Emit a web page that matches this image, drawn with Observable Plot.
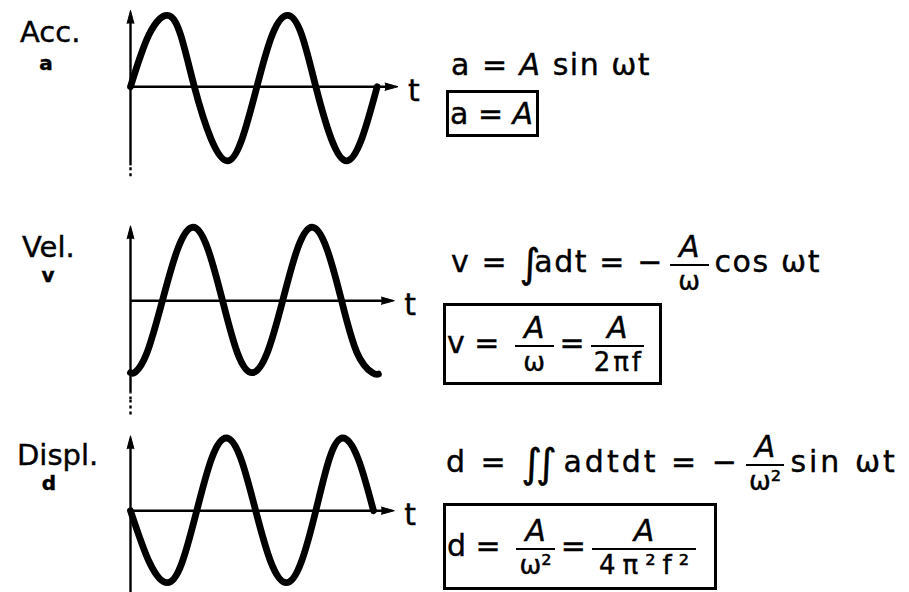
<!DOCTYPE html>
<html>
<head>
<meta charset="utf-8">
<script src="https://cdn.jsdelivr.net/npm/d3@7"></script>
<script src="https://cdn.jsdelivr.net/npm/@observablehq/plot@0.6"></script>
<style>
  html, body { margin: 0; padding: 0; background: #fff; overflow: hidden; }
  #page { position: relative; width: 909px; height: 592px; overflow: hidden;
          font-family: "DejaVu Sans", sans-serif; color: #000; }
  .name, .sym, .eq { position: absolute; line-height: 1; white-space: nowrap;
                     -webkit-text-stroke: 0.4px #000; }
  .name { font-size: 29px; }
  .sym  { font-size: 20px; font-weight: bold; transform: translateX(-50%); }
  .eq   { font-size: 30px; transform: translateY(-50%); }
  .box  { position: absolute; box-sizing: border-box; border: 3px solid #000;
          display: flex; align-items: center; padding-left: 1px;
          font-size: 30px; line-height: 1; white-space: nowrap; -webkit-text-stroke: 0.4px #000; }
  .frac { display: inline-flex; flex-direction: column; align-items: stretch;
          vertical-align: middle; margin: 0 6px; letter-spacing: 0; }
  .frac .num { border-bottom: 2.5px solid #000; padding: 0 9px 2px; line-height: 1; text-align: center; }
  .frac .den { line-height: 1; padding-top: 2px; font-size: 26px; text-align: center; }
  .frac .den.wide { letter-spacing: 7px; padding: 2px 0 0 7px; }
  .frac .den.mid  { letter-spacing: 3px; padding: 2px 0 0 3px; }
  .int { font-size: 40px; vertical-align: -5px; letter-spacing: -6px; }
  i { font-style: italic; }
</style>
</head>
<body>
<div id="page"></div>
<script>
// Waveform traces: time in cycles of the drive, amplitude in units of the peak value
const accT  = [0, 0.15, 0.30, 0.41, 0.52, 0.655, 0.79, 0.91, 1.03, 1.155, 1.28, 1.395, 1.51, 1.635, 1.76, 1.885, 2.01];
const accV  = [0, 0.72, 0.99, 0.71, 0, -0.72, -1.03, -0.72, 0, 0.72, 0.99, 0.72, 0, -0.72, -1.03, -0.72, 0];

const velT  = [0, 0.04, 0.135, 0.26, 0.385, 0.51, 0.63, 0.75, 0.87, 0.99, 1.115, 1.24, 1.36, 1.48, 1.60, 1.72, 1.845, 1.97, 2.02];
const velV  = [-1.0, -0.99, -0.72, 0, 0.72, 1.02, 0.72, 0, -0.72, -1.0, -0.72, 0, 0.72, 1.02, 0.72, 0, -0.72, -1.0, -1.02];

const dispT = [0, 0.155, 0.30, 0.42, 0.54, 0.66, 0.78, 0.90, 1.02, 1.145, 1.27, 1.39, 1.51, 1.62, 1.73, 1.855, 1.98];
const dispV = [0, -0.72, -1.0, -0.72, 0, 0.72, 1.01, 0.72, 0, -0.72, -1.0, -0.72, 0, 0.72, 1.01, 0.72, 0];

// Labels
const quantityNames = ["Acc.", "Vel.", "Displ."];
const quantitySymbols = ["a", "v", "d"];
const timeLabel = "t";

// Relations between acceleration, velocity and displacement
const frac = (n, d, cls = "") => `<span class="frac"><span class="num">${n}</span><span class="den ${cls}">${d}</span></span>`;
const A = "<i>A</i>";
const relations = [
  `a = ${A} sin ωt`,
  `v = <span class="int">∫</span>adt = −${frac(A, "ω")}cos ωt`,
  `d = <span class="int">∫∫</span>&nbsp;adtdt = −${frac(A, "ω²")}sin ωt`
];
const peakValues = [
  `a = ${A}`,
  `v = ${frac(A, "ω")}=${frac(A, "2πf", "mid")}`,
  `d = ${frac(A, "ω²")}=${frac(A, "4π²f²", "wide")}`
];

// Page layout of the three rows
const rows = [
  { t: accT,  v: accV,  axisY: 86,  vTip: 1.06, vSolid: [-1.10, 1.0], vDots: [[-1.25, -1.10]], hTip: 2.18,
    name: [20, 43], sym: [46, 70], eq: [451, 65, 1.5], box: [446, 90, 93, 47] },
  { t: velT,  v: velV,  axisY: 300, vTip: 1.04, vSolid: [-1.28, 0.98], vDots: [[-1.38, -1.28]], hTip: 2.15,
    name: [22, 258], sym: [48, 282], eq: [451, 263, 1.6], box: [443, 303, 219, 82] },
  { t: dispT, v: dispV, axisY: 510, vTip: 1.04, vSolid: [-1.6, 0.98], vDots: [[1.33, 1.53]], hTip: 2.15,
    name: [17, 466], sym: [49, 490], eq: [446, 463, 3], box: [443, 503, 274, 87] }
];

const page = document.getElementById("page");
const plotLeft = 100, mLeft = 30, mTop = 8;
const yDomain = [-1.6, 1.6];
const unit = 72; // pixels per amplitude unit
const plotH = mTop * 2 + unit * (yDomain[1] - yDomain[0]);
const baselineOffset = 0.846; // DejaVu baseline within a 1em line box

rows.forEach((row, i) => {
  const trace = row.t.map((t, k) => ({t, v: row.v[k]}));
  const svg = Plot.plot({
    width: 330,
    height: plotH,
    marginLeft: mLeft,
    marginRight: 30,
    marginTop: mTop,
    marginBottom: mTop,
    x: {domain: [0, 2.2], axis: null},
    y: {domain: yDomain, axis: null},
    style: {background: "transparent", overflow: "visible"},
    marks: [
      // time axis with arrow
      Plot.ruleY([0], {x1: 0, x2: row.hTip - 0.04, stroke: "black", strokeWidth: 2.6}),
      Plot.vector([{t: row.hTip, v: 0}], {x: "t", y: "v", shape: "spike", anchor: "end", rotate: 90,
        length: 13, r: 3.6, fill: "black", stroke: "black", strokeWidth: 1}),
      // value axis with arrow
      Plot.ruleX([0], {y1: row.vSolid[0], y2: row.vSolid[1], stroke: "black", strokeWidth: 2.4}),
      ...row.vDots.map(([a, b]) => Plot.ruleX([0], {y1: a, y2: b, stroke: "black", strokeWidth: 2.4, strokeDasharray: "3,3"})),
      Plot.vector([{t: 0, v: row.vTip}], {x: "t", y: "v", shape: "spike", anchor: "end", rotate: 0,
        length: 13, r: 3.4, fill: "black", stroke: "black", strokeWidth: 1}),
      // waveform
      Plot.line(trace, {x: "t", y: "v", curve: "natural", stroke: "black", strokeWidth: 6.8,
        strokeLinecap: "round", strokeLinejoin: "round"}),
      // time label
      Plot.text([timeLabel], {x: row.hTip, y: 0, text: d => d, textAnchor: "start", dx: 10, dy: 5,
        fontSize: 30, fontFamily: "DejaVu Sans", fill: "black", stroke: "black", strokeWidth: 0.4})
    ]
  });
  svg.style.position = "absolute";
  svg.style.left = plotLeft + "px";
  svg.style.top = (row.axisY - mTop - unit * yDomain[1]) + "px";
  page.appendChild(svg);

  const name = document.createElement("div");
  name.className = "name";
  name.textContent = quantityNames[i];
  name.style.left = row.name[0] + "px";
  name.style.top = (row.name[1] - baselineOffset * 29) + "px";
  page.appendChild(name);

  const sym = document.createElement("div");
  sym.className = "sym";
  sym.textContent = quantitySymbols[i];
  sym.style.left = row.sym[0] + "px";
  sym.style.top = (row.sym[1] - baselineOffset * 20) + "px";
  page.appendChild(sym);

  const eq = document.createElement("div");
  eq.className = "eq";
  eq.innerHTML = relations[i];
  eq.style.left = row.eq[0] + "px";
  eq.style.top = row.eq[1] + "px";
  eq.style.letterSpacing = row.eq[2] + "px";
  page.appendChild(eq);

  const box = document.createElement("div");
  box.className = "box";
  box.innerHTML = `<span>${peakValues[i]}</span>`;
  const [bx, by, bw, bh] = row.box;
  Object.assign(box.style, {left: bx + "px", top: by + "px", width: bw + "px", height: bh + "px"});
  page.appendChild(box);
});
</script>
</body>
</html>
